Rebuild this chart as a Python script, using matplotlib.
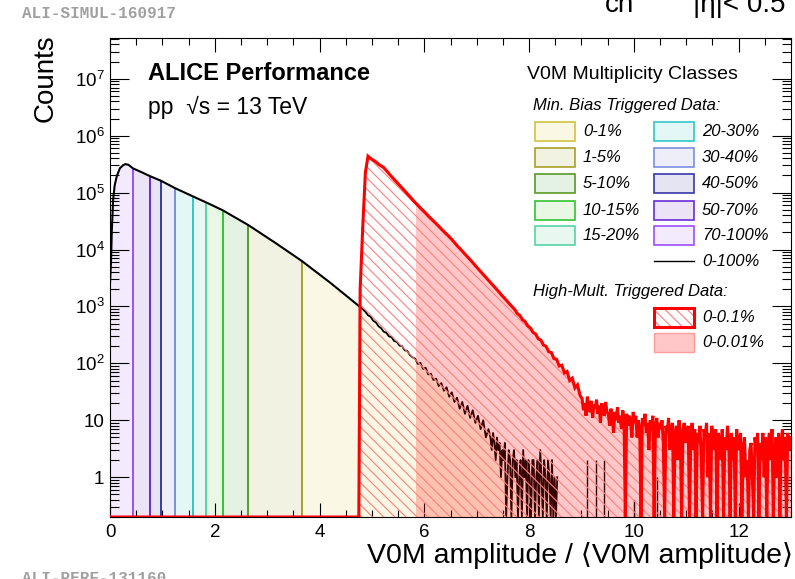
import matplotlib.pyplot as plt
import numpy as np
from matplotlib.patches import Rectangle
from matplotlib.ticker import MultipleLocator, LogLocator, FixedLocator, FixedFormatter, NullFormatter

plt.rcParams['font.family'] = ['Liberation Sans', 'DejaVu Sans']
plt.rcParams['mathtext.fontset'] = 'custom'
plt.rcParams['mathtext.rm'] = 'Liberation Sans'
plt.rcParams['mathtext.it'] = 'Liberation Sans:italic'
plt.rcParams['hatch.linewidth'] = 0.8

# Minimum-bias V0M spectrum, smooth part (x in units of <V0M amplitude>)
mb_x = [0.0, 0.02, 0.035, 0.06, 0.09, 0.13, 0.19, 0.25, 0.29, 0.35, 0.44, 0.6,
        0.76, 0.97, 1.24, 1.59, 1.83, 2.15, 2.64, 3.15, 3.66, 4.2, 4.75]
mb_counts = [2500, 6500, 21900, 75900, 135000, 195000, 269000, 302000, 316000,
             309000, 266000, 229000, 195000, 162000, 120000, 85100, 67600,
             49000, 26900, 13200, 6310, 2630, 1020]

# Multiplicity classes, lowest multiplicity first
class_labels = ['70-100%', '50-70%', '40-50%', '30-40%', '20-30%',
                '15-20%', '10-15%', '5-10%', '1-5%', '0-1%']
class_edges = [0.0, 0.44, 0.76, 0.97, 1.24, 1.59, 1.83, 2.15, 2.64, 3.66, 4.75]
class_faces = ['#f3eafe', '#ece4f6', '#e4e4f2', '#eeeef8', '#e4f7f7',
               '#e8f7f0', '#e8f8e4', '#e4f2e4', '#f2f2e2', '#faf8e4']
class_lines = ['#9c4dff', '#6a2bd6', '#3838aa', '#7a8ee0', '#30c8c8',
               '#55d4a8', '#33c433', '#5a9a28', '#a8a028', '#d0c43c']

# Minimum-bias tail: 0.05 wide bins from the trigger threshold, then 0.025 wide
mb_tail_start = 4.75
mb_tail_width = 0.05
mb_tail_counts = [1000, 890, 810, 700, 660, 560, 525, 450, 415, 360,
                  345, 298, 290, 246, 240, 205, 201, 170, 165, 140,
                  128, 121, 98, 102, 80, 84, 64, 66, 51, 54,
                  40, 45, 33, 38, 26, 31, 21, 25, 16, 21,
                  13, 18, 11, 15, 9, 12, 7, 10, 5, 7]
mb_fine_width = 0.025
mb_fine_counts = [5, 3, 6, 4, 2, 5, 3, 4, 1, 3,
                  2, 4, 0, 1, 3, 2, 0, 2, 3, 1,
                  2, 0, 1, 2, 0, 3, 1, 2, 0, 2,
                  1, 0, 2, 2, 0, 1, 2, 0, 3, 1,
                  0, 2, 1, 0, 2, 1, 0, 2, 0, 1,
                  0, 1]
mb_spike_x = [9.11, 9.27, 9.43, 10.0, 10.44]
mb_spike_counts = [2, 2, 2, 0.4, 1]

# High-multiplicity triggered spectrum (0-0.1%)
hm_start = 4.75
hm_width = 0.05
hm_counts = [2000, 25000, 224000, 437000,
             398000, 372000, 347000, 316000, 295000, 275000,
             243000, 216000, 191000, 170000, 151000, 135000, 120000, 107000,
             95500, 85100, 75000, 66800,
             60300, 53700, 48400, 43600, 38900, 35100, 31600, 28500, 25700,
             22900, 20700, 18600, 16800,
             15000, 13300, 11700, 10500, 9330, 8320, 7410, 6610, 5890, 5190,
             4620, 4120,
             3670, 3240, 2880, 2570, 2290, 2020, 1800, 1580, 1410, 1260, 1110, 990,
             885, 750, 690, 585, 540, 455, 420, 350, 328, 270, 256, 210,
             199, 160, 155, 121, 118, 90, 93, 68, 72, 50,
             55, 37, 42, 27]
hm_fine_width = 0.025
hm_fine_counts = [24, 15, 20, 12, 26, 17, 14, 22, 11, 19,
                  16, 23, 13, 18, 9, 20, 15, 12, 21, 14,
                  13, 8, 16, 11, 6, 14, 10, 17, 9, 12,
                  7, 15, 11, 0, 13, 8, 12, 10, 5, 14,
                  9, 12, 5, 10, 7, 0, 11, 8, 13, 6,
                  9, 3, 10, 7, 12, 0, 8, 11, 5, 9,
                  7, 10, 4, 0, 8, 6, 11, 3, 7, 9,
                  0, 6, 8, 2, 10, 5, 0, 7, 9, 4,
                  6, 8, 0, 5, 9, 3, 7, 0, 6, 4,
                  8, 2, 0, 7, 5, 9, 1, 6, 0, 8,
                  5, 3, 7, 0, 6, 4, 2, 7, 0, 5,
                  3, 8, 4, 0, 6, 2, 5, 0, 7, 3,
                  4, 6, 0, 3, 5, 1, 2, 0, 3, 4,
                  1, 0, 5, 3, 6, 0, 4, 2, 6, 1,
                  5, 0, 4, 6, 2, 7, 0, 3, 5, 1,
                  6, 0, 4, 7, 2, 5, 0, 6, 3, 5]
hm_top_start = 5.85  # start of the 0-0.01% class

ytick_values = [1, 10, 1e2, 1e3, 1e4, 1e5, 1e6, 1e7]
ytick_labels = ['1', '10', '$10^{2}$', '$10^{3}$', '$10^{4}$',
                '$10^{5}$', '$10^{6}$', '$10^{7}$']

ymin, ymax = 0.2, 5.2e7
hatch = '\\\\\\'


def histogram(start, coarse_w, coarse, fine_w, fine):
    """Bin edges and floored contents for a coarse + fine binned histogram."""
    e1 = start + coarse_w * np.arange(len(coarse) + 1)
    e2 = e1[-1] + fine_w * np.arange(1, len(fine) + 1)
    edges = np.concatenate([e1, e2])
    vals = np.maximum(np.array(coarse + fine, dtype=float), ymin)
    return edges, vals


fig = plt.figure(figsize=(7.95, 5.79), dpi=100)
ax = fig.add_axes([110 / 795, 62 / 579, 681 / 795, 479 / 579])
ax.set_yscale('log')
ax.set_xlim(0, 13)
ax.set_ylim(ymin, ymax)

mb_x_arr = np.array(mb_x)
mb_y_arr = np.array(mb_counts, dtype=float)

# class areas under the minimum-bias curve
for i, lab in enumerate(class_labels):
    lo, hi = class_edges[i], class_edges[i + 1]
    sel = (mb_x_arr >= lo) & (mb_x_arr <= hi)
    ax.fill_between(mb_x_arr[sel], ymin, mb_y_arr[sel], color=class_faces[i],
                    lw=0, zorder=1)
    if i < len(class_labels) - 1:
        k = mb_x.index(hi)
        ax.vlines(hi, ymin, mb_counts[k], color=class_lines[i], lw=1.4, zorder=2)

# tail of the minimum-bias distribution (still 0-1%)
tail_edges, tail = histogram(mb_tail_start, mb_tail_width, mb_tail_counts,
                             mb_fine_width, mb_fine_counts)
tail_centers = 0.5 * (tail_edges[:-1] + tail_edges[1:])
ax.stairs(tail, tail_edges, baseline=ymin, fill=True, color=class_faces[-1],
          lw=0, zorder=1)

ax.plot(mb_x, mb_counts, color='black', lw=1.5, zorder=3)
ax.plot(np.concatenate([[mb_x[-1]], tail_centers]),
        np.concatenate([[mb_counts[-1]], tail]), color='black', lw=1.3, zorder=3)
ax.vlines(mb_spike_x, ymin, mb_spike_counts, color='black', lw=1.0, zorder=3)

# high-multiplicity triggered data
hm_edges, hm = histogram(hm_start, hm_width, hm_counts,
                         hm_fine_width, hm_fine_counts)
hm_centers = 0.5 * (hm_edges[:-1] + hm_edges[1:])
k0 = int(round((hm_top_start - hm_start) / hm_width))
ax.stairs(hm[k0:], hm_edges[k0:], baseline=ymin, fill=True,
          color=(1, 0, 0, 0.22), lw=0, zorder=4)
ax.stairs(hm, hm_edges, baseline=ymin, fill=True, facecolor='none',
          edgecolor='#ff7f7f', hatch=hatch, lw=0, zorder=5)
ax.plot(np.concatenate([[0.0, hm_start], hm_centers]),
        np.concatenate([[ymin, ymin], hm]), color='red', lw=2.2, zorder=6,
        solid_joinstyle='miter')

# axes in ROOT style
ax.xaxis.set_major_locator(MultipleLocator(2))
ax.xaxis.set_minor_locator(MultipleLocator(0.5))
ax.yaxis.set_major_locator(FixedLocator(ytick_values))
ax.yaxis.set_major_formatter(FixedFormatter(ytick_labels))
ax.yaxis.set_minor_locator(LogLocator(base=10, subs=np.arange(2, 10)))
ax.yaxis.set_minor_formatter(NullFormatter())
ax.tick_params(axis='both', which='both', direction='in', top=True, right=True,
               width=0.8, labelsize=13.5, colors='black')
ax.tick_params(axis='x', which='major', length=10, pad=5)
ax.tick_params(axis='x', which='minor', length=5)
ax.tick_params(axis='y', which='major', length=14, pad=4)
ax.tick_params(axis='y', which='minor', length=6.5)
for sp in ax.spines.values():
    sp.set_linewidth(0.8)

fig.text(46 / 795, 1 - 34 / 579, 'Counts', rotation=90, ha='center', va='top',
         fontsize=20)
fig.text(793 / 795, 16 / 579, 'V0M amplitude / ⟨V0M amplitude⟩', ha='right',
         va='baseline', fontsize=20.5)

ax.text(0.0558, 0.925, 'ALICE Performance', transform=ax.transAxes,
        fontsize=17, fontweight='bold', va='center')
ax.text(0.0558, 0.856, 'pp  √s = 13 TeV', transform=ax.transAxes,
        fontsize=16.5, va='center')

# legend
sw_w, sw_h = 40 / 681, 19 / 479
col_x = [0.6241, 0.7988]
col_tx = [0.6946, 0.8693]
row_y = [0.8038, 0.7495, 0.6952, 0.6409, 0.5887]
ax.text(0.6123, 0.9228, 'V0M Multiplicity Classes', transform=ax.transAxes,
        fontsize=14, va='center')
ax.text(0.6211, 0.8601, 'Min. Bias Triggered Data:', transform=ax.transAxes,
        fontsize=12, style='italic', va='center')
for n, i in enumerate(range(len(class_labels) - 1, -1, -1)):
    c, r = n // 5, n % 5
    ax.add_patch(Rectangle((col_x[c], row_y[r] - sw_h / 2), sw_w, sw_h,
                           transform=ax.transAxes, clip_on=False,
                           facecolor=class_faces[i], edgecolor=class_lines[i],
                           lw=1.2, zorder=7))
    ax.text(col_tx[c], row_y[r], class_labels[i], transform=ax.transAxes,
            fontsize=12, style='italic', va='center')
ax.plot([col_x[1], col_x[1] + sw_w], [0.5344, 0.5344], color='black', lw=1.0,
        transform=ax.transAxes, clip_on=False)
ax.text(col_tx[1], 0.5344, '0-100%', transform=ax.transAxes, fontsize=12,
        style='italic', va='center')
ax.text(0.6211, 0.4718, 'High-Mult. Triggered Data:', transform=ax.transAxes,
        fontsize=12, style='italic', va='center')
ax.add_patch(Rectangle((col_x[1], 0.4175 - sw_h / 2), sw_w, sw_h,
                       transform=ax.transAxes, clip_on=False, facecolor='white',
                       edgecolor='#ff7f7f', hatch=hatch, lw=0, zorder=7))
ax.add_patch(Rectangle((col_x[1], 0.4175 - sw_h / 2), sw_w, sw_h,
                       transform=ax.transAxes, clip_on=False, facecolor='none',
                       edgecolor='red', lw=2.2, zorder=8))
ax.text(col_tx[1], 0.4175, '0-0.1%', transform=ax.transAxes, fontsize=12,
        style='italic', va='center')
ax.add_patch(Rectangle((col_x[1], 0.3643 - sw_h / 2), sw_w, sw_h,
                       transform=ax.transAxes, clip_on=False,
                       facecolor=(1, 0, 0, 0.22), edgecolor='#ff9c9c', lw=1.0,
                       zorder=7))
ax.text(col_tx[1], 0.3643, '0-0.01%', transform=ax.transAxes, fontsize=12,
        style='italic', va='center')

# labels partly outside the canvas
fig.text(605 / 795, 1 - 11.7 / 579, 'ch', fontsize=20, va='baseline')
fig.text(693 / 795, 1 - 11.7 / 579, '|η|< 0.5', fontsize=20, va='baseline')
fig.text(22 / 795, 1 - 18 / 579, 'ALI-SIMUL-160917', fontsize=11.5,
         family='Liberation Mono', fontweight='bold', color='#a0a0a0',
         va='baseline')
fig.text(22 / 795, -4 / 579, 'ALI-PERF-131160', fontsize=11.5,
         family='Liberation Mono', fontweight='bold', color='#a0a0a0',
         va='baseline')

fig.savefig('out.png', dpi=100)
